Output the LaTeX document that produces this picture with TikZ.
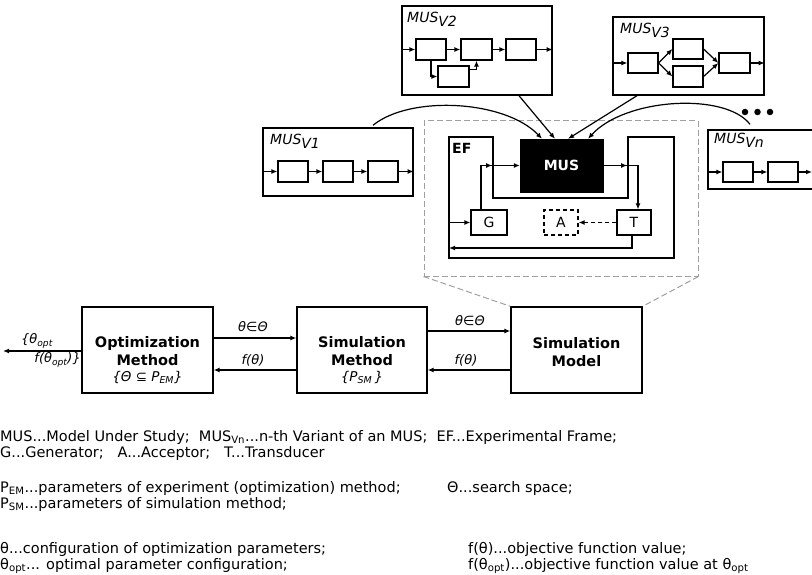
\documentclass[tikz,border=0pt]{standalone}
\usepackage{fontspec}
\setmainfont{DejaVu Sans}
\usetikzlibrary{arrows.meta,calc,decorations.markings}
\tikzset{
  frame/.style={draw, line width=1.4pt, inner sep=0pt},
  blk/.style={draw, line width=1.2pt, inner sep=0pt, minimum width=30pt, minimum height=21pt},
  ln/.style={line width=1.3pt},
  tip/.tip={Latex[length=6pt,width=5pt]},
  arr/.style={line width=1.2pt, -tip},
  midarr/.style={postaction={decorate}, decoration={markings, mark=at position #1 with {\arrow{tip}}}},
  zoomline/.style={draw=gray!75, line width=1pt, dash pattern=on 6pt off 3pt},
  lbl/.style={font=\fontsize{14}{16}\selectfont\itshape, inner sep=0pt, anchor=west},
  bold/.style={font=\fontsize{14.5}{18}\selectfont\bfseries, align=center, inner sep=0pt},
  small/.style={font=\fontsize{13}{15}\selectfont\itshape, inner sep=0pt},
  gat/.style={draw, line width=1.2pt, inner sep=0pt, minimum width=34pt, minimum height=25pt, font=\fontsize{14}{16}\selectfont},
  dotn/.style={circle, fill=black, inner sep=0pt, minimum size=6.5pt},
  leg/.style={font=\fontsize{14.5}{16}\selectfont, inner sep=0pt, anchor=west},
}
\newcommand\lowsub[1]{\raisebox{-4pt}{#1}}
\begin{document}
\begin{tikzpicture}[x=1pt,y=-1pt]
\useasboundingbox (0,0) rectangle (812,575);
\fill[white] (0,0) rectangle (812,575);
\clip (0,0) rectangle (812,575);

% ---------- MUS V2 ----------
\node[frame, minimum width=150pt, minimum height=89pt] (v2) at (477,50.5) {};
\node[lbl] (v2l) at (407,19) {MUS\lowsub{V2}};
\node[blk] (v2a) at (431,49.5) {};
\node[blk, minimum width=31pt] (v2b) at (476.5,49.5) {};
\node[blk] (v2c) at (521,49.5) {};
\node[blk, minimum width=31pt] (v2d) at (453.5,76.5) {};
\draw[arr] (v2.west |- v2a.west) -- (v2a.west);
\draw[arr] (v2a) -- (v2b);
\draw[arr] (v2b) -- (v2c);
\draw[arr] (v2c.east) -- (v2.east |- v2c.east);
\draw[arr] (v2a.south) |- (v2d.west);
\draw[arr] ($(v2d.north east)+(0,4)$) -| (v2b.south);

% ---------- MUS V3 ----------
\node[frame, minimum width=151pt, minimum height=78pt] (v3) at (688.5,56) {};
\node[lbl] (v3l) at (620,30) {MUS\lowsub{V3}};
\node[blk, minimum height=20pt] (v3a) at (643,63) {};
\node[blk, minimum height=20pt] (v3b) at (688,49) {};
\node[blk] (v3c) at (688,76.5) {};
\node[blk, minimum width=31pt, minimum height=20pt] (v3d) at (734.5,63) {};
\draw[arr] (v3.west |- v3a.west) -- (v3a.west);
\draw[arr] (v3a.east) -- (v3b.west);
\draw[arr] (v3a.east) -- (v3c.west);
\draw[arr] (v3b.east) -- (v3d.west);
\draw[arr] (v3c.east) -- (v3d.west);
\draw[arr] (v3d.east) -- (v3.east |- v3d.east);

% ---------- MUS V1 ----------
\node[frame, minimum width=150pt, minimum height=68pt] (v1) at (338,162) {};
\node[lbl] (v1l) at (270,141) {MUS\lowsub{V1}};
\node[blk] (v1a) at (293,171.5) {};
\node[blk] (v1b) at (338,171.5) {};
\node[blk] (v1c) at (383,171.5) {};
\draw[arr] (v1.west |- v1a.west) -- (v1a.west);
\draw[arr] (v1a) -- (v1b);
\draw[arr] (v1b) -- (v1c);
\draw[arr] (v1c.east) -- (v1.east |- v1c.east);

% ---------- MUS Vn ----------
\node[frame, minimum width=132pt, minimum height=59pt] (vn) at (774,159.5) {};
\node[lbl] (vnl) at (714,140) {MUS\lowsub{Vn}};
\node[blk, minimum height=20pt] (vna) at (738,172) {};
\node[blk, minimum height=20pt] (vnb) at (783,172) {};
\coordinate (vnout) at (812,172);
\draw[arr] (vn.west |- vna.west) -- (vna.west);
\draw[arr] (vna) -- (vnb);
\draw[arr] (vnb.east) -- (vnout);

% dots
\node[dotn] (d1) at (745,112) {};
\node[dotn] (d2) at (757.5,112) {};
\node[dotn] (d3) at (770,112) {};

% ---------- zoom frame and EF ----------
\node[zoomline, minimum width=274pt, minimum height=155pt, inner sep=0pt] (ez) at (561,198.5) {};

\coordinate (ef1) at (449,137);
\coordinate (ef2) at (493,137);
\coordinate (ef3) at (493,198);
\coordinate (ef4) at (628,198);
\coordinate (ef5) at (628,137);
\coordinate (ef6) at (674,137);
\coordinate (ef7) at (674,258);
\coordinate (ef8) at (449,258);
\draw[ln] (ef1) -- (ef2) -- (ef3) -- (ef4) -- (ef5) -- (ef6) -- (ef7) -- (ef8) -- cycle;
\node[font=\fontsize{14}{16}\selectfont\bfseries, inner sep=0pt, anchor=west] (efl) at (452,148) {EF};

\node[fill=black, draw=black, text=white, font=\fontsize{14}{16}\selectfont\bfseries,
      minimum width=83pt, minimum height=53pt, inner sep=0pt] (mus) at (561.5,165.5) {MUS};

\node[gat, minimum width=36pt] (G) at (489,222.5) {G};
\node[gat, dashed, dash pattern=on 4pt off 3pt] (A) at (561,222.5) {A};
\node[gat] (T) at (634,222.5) {T};

\draw[arr, midarr=55pt] ($(G.north)+(-8,0)$) |- (mus.west);
\draw[arr, midarr=24pt] (mus.east) -| ($(T.north)+(4,0)$);
\draw[arr] (ef1 |- G.west) -- (G.west);
\draw[arr, dash pattern=on 4pt off 3pt] (T.west) -- (A.east);
\coordinate (tret) at (449,248);
\draw[arr] ($(T.south)+(-2,0)$) |- (tret);

% curved inputs to MUS
\draw[arr] ($(v1.north)+(35,-2)$) .. controls (410,95) and (505,100) .. ($(mus.north)+(-19.5,0)$);
\draw[arr] ($(v2.south)+(42,0)$) -- ($(mus.north)+(-6.5,0)$);
\draw[arr] ($(v3.south)+(-51.5,0)$) -- ($(mus.north)+(6.5,0)$);
\draw[arr] ($(vn.north)+(-24,-5)$) .. controls (725,92) and (625,98) .. ($(mus.north)+(26.5,0)$);

% ---------- bottom row ----------
\node[frame, minimum width=131pt, minimum height=86pt] (om) at (147.5,350) {};
\node[frame, minimum width=130pt, minimum height=86pt] (smeth) at (362,350) {};
\node[frame, minimum width=131pt, minimum height=86pt] (smod) at (576.5,350) {};

\draw[zoomline] (ez.south west) -- (smod.north west);
\draw[zoomline] (ez.south east) -- (smod.north east);

\node[bold] (omt) at (147.5,360) {Optimization\\Method\\[-2pt]{\fontsize{13.5}{15}\selectfont\mdseries\itshape \{Θ ⊆ P\textsubscript{EM}\}}};
\node[bold] (smetht) at (362,360) {Simulation\\Method\\[-2pt]{\fontsize{13.5}{15}\selectfont\mdseries\itshape \{P\textsubscript{SM}\,\}}};
\node[bold] (smodt) at (576.5,352) {Simulation\\Model};

\draw[arr] ($(om.east)+(0,-12)$) -- ($(smeth.west)+(0,-12)$);
\node[small] (l1) at (253,327) {θ∈Θ};
\draw[arr] ($(smeth.west)+(0,20)$) -- ($(om.east)+(0,20)$);
\node[small] (l2) at (253,360) {f(θ)};
\draw[arr] ($(smeth.east)+(0,-19)$) -- ($(smod.west)+(0,-19)$);
\node[small] (l3) at (470,321) {θ∈Θ};
\draw[arr] ($(smod.west)+(0,20)$) -- ($(smeth.east)+(0,20)$);
\node[small] (l4) at (466,360) {f(θ)};

\coordinate (outp) at (3,351);
\draw[arr] ($(om.west)+(0,1)$) -- (outp);
\node[small, anchor=west] (l5) at (21,341) {\{θ\textsubscript{opt}};
\node[small, anchor=east] (l6) at (81,360) {f(θ\textsubscript{opt})\}};

% ---------- legend ----------
\node[leg] (g1) at (0,437) {MUS...Model Under Study;\ \ MUS\textsubscript{Vn}...n-th Variant of an MUS;\ \ EF...Experimental Frame;};
\node[leg] (g2) at (0,453) {G...Generator;\ \ \ A...Acceptor;\ \ \ T...Transducer};
\node[leg] (g3) at (0,488) {P\textsubscript{EM}...parameters of experiment (optimization) method;};
\node[leg] (g3b) at (447,488) {Θ...search space;};
\node[leg] (g4) at (0,504) {P\textsubscript{SM}...parameters of simulation method;};
\node[leg] (g5) at (0,549) {θ...configuration of optimization parameters;};
\node[leg] (g5b) at (468,549) {f(θ)...objective function value;};
\node[leg] (g6) at (0,566) {θ\textsubscript{opt}... optimal parameter configuration;};
\node[leg] (g6b) at (468,566) {f(θ\textsubscript{opt})...objective function value at θ\textsubscript{opt}};
\end{tikzpicture}
\end{document}
